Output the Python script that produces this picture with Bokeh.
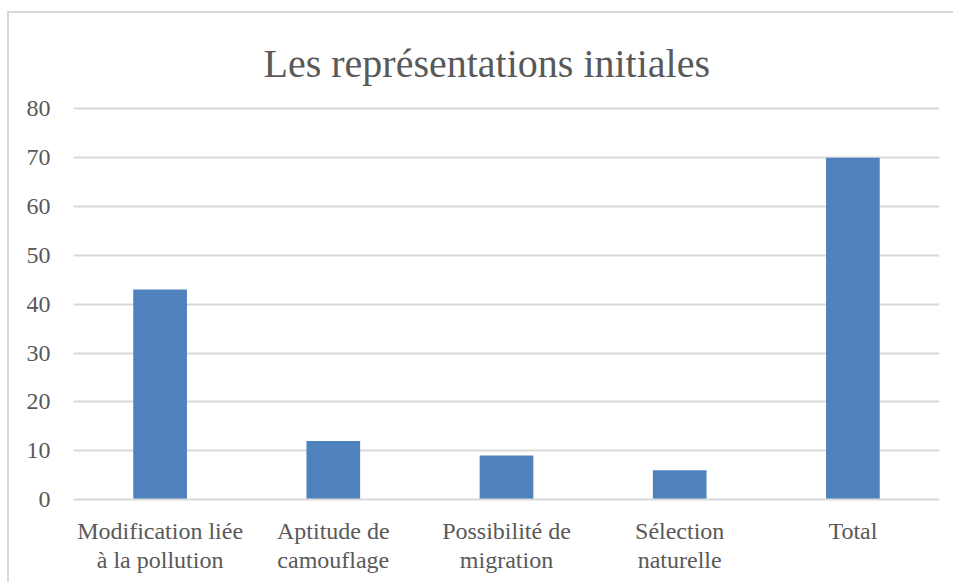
from bokeh.plotting import figure
from bokeh.models import ColumnDataSource, FactorRange, Range1d, FixedTicker
from bokeh.embed import file_html
from bokeh.resources import INLINE

categories = ["Modification liée\nà la pollution", "Aptitude de\ncamouflage",
              "Possibilité de\nmigration", "Sélection\nnaturelle", "Total"]
values = [43, 12, 9, 6, 70]
y_ticks = [0, 10, 20, 30, 40, 50, 60, 70, 80]
title_text = "Les représentations initiales"

FONT = "Liberation Serif"
TEXT = "#595959"
GRID = "#D9D9D9"
BAR = "#4F81BD"

src = ColumnDataSource(dict(cat=categories, val=values))

p = figure(x_range=FactorRange(*categories, range_padding=0),
           y_range=Range1d(0, 80.5),
           width=952, height=571, output_backend="svg", toolbar_location=None,
           min_border_left=64, min_border_right=22, min_border_top=93,
           min_border_bottom=85)
p.styles = {"border-left": "2px solid #D9D9D9", "border-top": "2px solid #D9D9D9",
            "margin-top": "11px", "margin-left": "7px"}

p.vbar(x="cat", top="val", width=0.31, source=src, fill_color=BAR, line_color=None)

p.title.text = title_text
p.title.align = "left"
p.title.text_font = FONT
p.title.text_font_size = "40px"
p.title.text_font_style = "normal"
p.title.text_color = TEXT
p.title.offset = 190
p.title.standoff = 42

p.outline_line_color = None
p.xgrid.grid_line_color = None
p.ygrid.grid_line_color = GRID
p.ygrid.grid_line_width = 2
p.yaxis.ticker = FixedTicker(ticks=y_ticks)

p.yaxis.axis_line_color = None
p.yaxis.major_tick_line_color = None
p.yaxis.minor_tick_line_color = None
p.yaxis.major_label_text_font = FONT
p.yaxis.major_label_text_font_size = "24px"
p.yaxis.major_label_text_color = TEXT
p.yaxis.major_label_standoff = 17

p.xaxis.axis_line_color = GRID
p.xaxis.axis_line_width = 2
p.xaxis.major_tick_line_color = None
p.xaxis.minor_tick_line_color = None
p.xaxis.major_label_text_font = FONT
p.xaxis.major_label_text_font_size = "24px"
p.xaxis.major_label_text_color = TEXT
p.xaxis.major_label_standoff = 12
p.xaxis.major_label_text_line_height = 1.15

open("out.html", "w").write(file_html(p, INLINE))
